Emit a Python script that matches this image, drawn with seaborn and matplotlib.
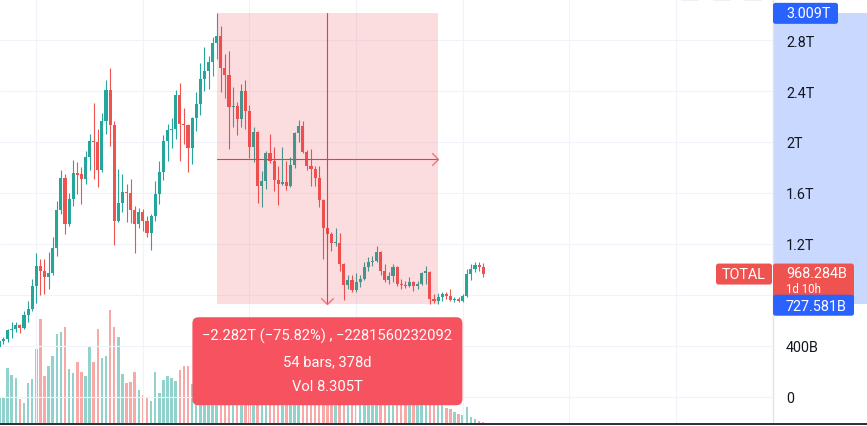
import numpy as np
import pandas as pd
import seaborn as sns
import matplotlib
matplotlib.use("Agg")
import matplotlib.pyplot as plt
from matplotlib.patches import Rectangle, FancyBboxPatch
from matplotlib.transforms import IdentityTransform
from matplotlib.path import Path
from matplotlib.lines import Line2D

# ---------------- data (weekly TOTAL crypto market cap, in trillions USD) ----------------
opens = [0.392, 0.439, 0.455, 0.525, 0.533, 0.565, 0.541, 0.643, 0.690, 0.871,
         1.024, 0.992, 0.945, 0.973, 1.165, 1.467, 1.718, 1.357, 1.553, 1.753,
         1.749, 1.706, 1.882, 2.008, 2.000, 1.784, 2.167, 2.408, 2.133, 1.383,
         1.522, 1.605, 1.600, 1.469, 1.359, 1.449, 1.383, 1.284, 1.417, 1.592,
         1.767, 2.008, 2.096, 2.102, 2.369, 2.141, 2.133, 1.955, 2.186, 2.298,
         2.494, 2.559, 2.625, 2.774, 2.834, 2.584, 2.528, 2.271, 2.282, 2.180,
         2.398, 2.243, 1.963, 2.076, 1.655, 1.692, 1.914, 1.849, 1.702, 1.671,
         1.689, 1.657, 1.820, 2.071, 2.128, 1.918, 1.808, 1.788, 1.715, 1.549,
         1.329, 1.275, 1.204, 1.210, 1.047, 0.875, 0.918, 0.842, 0.900, 0.925,
         1.022, 1.061, 1.069, 1.140, 0.992, 0.914, 0.951, 1.020, 0.886, 0.878,
         0.868, 0.904, 0.868, 0.886, 0.976, 0.984, 0.769, 0.755, 0.782, 0.808,
         0.790, 0.761, 0.771, 0.753, 0.795, 0.965, 1.004, 1.035, 1.017]
highs = [0.455, 0.471, 0.533, 0.586, 0.586, 0.573, 0.677, 0.755, 0.925, 1.129,
         1.082, 1.082, 1.135, 1.253, 1.537, 1.780, 1.749, 1.600, 1.859, 1.841,
         1.802, 1.932, 2.063, 2.306, 2.102, 2.227, 2.486, 2.580, 2.167, 1.788,
         1.749, 1.671, 1.710, 1.496, 1.480, 1.475, 1.422, 1.435, 1.696, 1.853,
         2.055, 2.141, 2.186, 2.408, 2.463, 2.264, 2.141, 2.194, 2.390, 2.617,
         2.743, 2.677, 2.826, 3.009, 2.912, 2.694, 2.716, 2.429, 2.311, 2.455,
         2.486, 2.293, 2.120, 2.085, 1.775, 1.932, 2.063, 1.958, 1.814, 1.963,
         1.851, 1.880, 2.081, 2.173, 2.165, 1.940, 1.945, 1.814, 1.809, 1.555,
         1.333, 1.296, 1.325, 1.286, 1.050, 0.959, 0.959, 0.970, 0.959, 1.056,
         1.100, 1.108, 1.182, 1.145, 1.043, 0.978, 1.043, 1.025, 0.925, 0.912,
         0.939, 0.912, 0.912, 0.980, 1.025, 0.988, 0.808, 0.813, 0.826, 0.826,
         0.847, 0.782, 0.782, 0.808, 1.004, 1.043, 1.059, 1.061, 1.051]
lows = [0.376, 0.416, 0.434, 0.463, 0.510, 0.502, 0.533, 0.591, 0.677, 0.735,
        0.802, 0.808, 0.847, 0.957, 1.108, 1.435, 1.278, 1.341, 1.500, 1.592,
        1.514, 1.671, 1.783, 1.710, 1.645, 1.767, 2.063, 1.971, 1.195, 1.370,
        1.453, 1.375, 1.365, 1.127, 1.323, 1.304, 1.253, 1.155, 1.383, 1.514,
        1.704, 1.853, 1.951, 2.024, 1.853, 1.984, 1.762, 1.827, 2.089, 2.214,
        2.398, 2.416, 2.520, 2.651, 2.396, 2.345, 1.945, 2.120, 2.057, 2.115,
        2.102, 1.875, 1.841, 1.522, 1.493, 1.631, 1.833, 1.618, 1.508, 1.659,
        1.626, 1.649, 1.798, 1.998, 1.911, 1.783, 1.655, 1.653, 1.488, 1.082,
        1.161, 1.147, 1.187, 0.991, 0.763, 0.847, 0.821, 0.821, 0.863, 0.920,
        0.991, 1.025, 1.056, 0.957, 0.904, 0.886, 0.900, 0.873, 0.847, 0.853,
        0.860, 0.834, 0.847, 0.880, 0.886, 0.729, 0.735, 0.7276, 0.755, 0.769,
        0.755, 0.743, 0.743, 0.743, 0.782, 0.918, 0.980, 0.988, 0.944]
closes = [0.439, 0.455, 0.525, 0.533, 0.565, 0.541, 0.643, 0.690, 0.871, 1.024,
          0.992, 0.945, 0.973, 1.165, 1.467, 1.718, 1.357, 1.553, 1.757, 1.741,
          1.706, 1.882, 2.008, 2.000, 1.784, 2.167, 2.408, 2.133, 1.383, 1.522,
          1.605, 1.600, 1.469, 1.359, 1.449, 1.383, 1.284, 1.417, 1.592, 1.767,
          2.008, 2.096, 2.102, 2.369, 2.141, 2.133, 1.955, 2.186, 2.298, 2.494,
          2.559, 2.625, 2.774, 2.834, 2.584, 2.528, 2.271, 2.282, 2.180, 2.398,
          2.243, 1.963, 2.076, 1.655, 1.692, 1.914, 1.849, 1.702, 1.671, 1.689,
          1.657, 1.820, 2.071, 2.128, 1.918, 1.808, 1.788, 1.715, 1.549, 1.329,
          1.275, 1.204, 1.210, 1.047, 0.875, 0.918, 0.842, 0.900, 0.925, 1.022,
          1.061, 1.069, 1.140, 0.992, 0.914, 0.951, 1.020, 0.886, 0.878, 0.868,
          0.904, 0.868, 0.886, 0.976, 0.984, 0.769, 0.755, 0.782, 0.808, 0.790,
          0.761, 0.771, 0.753, 0.795, 0.965, 1.004, 1.035, 1.017, 0.968284]
# volume in billions
volumes = [119, 119, 246, 216, 202, 110, 92, 180, 198, 330,
           462, 211, 255, 299, 396, 405, 427, 242, 224, 273,
           229, 211, 343, 273, 418, 290, 299, 502, 427, 383,
           220, 180, 185, 229, 150, 128, 114, 101, 229, 136,
           194, 211, 202, 189, 238, 255, 255, 176, 198, 229,
           211, 176, 194, 220, 242, 185, 255, 176, 158, 185,
           167, 220, 176, 246, 185, 194, 158, 176, 167, 150,
           141, 158, 176, 150, 158, 141, 150, 132, 158, 229,
           176, 150, 132, 176, 220, 141, 132, 123, 114, 123,
           114, 106, 123, 132, 114, 106, 114, 123, 106, 97,
           97, 101, 97, 114, 106, 158, 123, 114, 97, 70,
           66, 53, 44, 40, 75, 31, 22, 15, 10]

# the 800B level is hidden behind the price labels in the reference
price_ticks = [0, 0.4, 0.8, 1.2, 1.6, 2.0, 2.4, 2.8]
price_tick_labels = ["0", "400B", "", "1.2T", "1.6T", "2T", "2.4T", "2.8T"]
symbol = "TOTAL"
last_price_label = "968.284B"
countdown_label = "1d 10h"
measure_high_label = "3.009T"
measure_low_label = "727.581B"
measure_bars = 54
tooltip_lines = ["\u22122.282T (\u221275.82%) , \u22122281560232092",
                 "54 bars, 378d",
                 "Vol 8.305T"]

# ---------------- style ----------------
sns.set_style("white")
plt.rcParams['font.family'] = ['Roboto', 'DejaVu Sans']

GREEN = "#26a69a"
RED = "#ef5350"
VOL_G = "#92d2cc"
VOL_R = "#f7a9a7"
GRID = "#f0f3fa"
TXT = "#131722"
BLUE = "#2962ff"
FS = 10.4

W, H = 867, 427
PLOT_R, PLOT_B = 773, 425
BAR_PX, X0_PX = 4.1, -0.6
PX_PER_T, ZERO_PX = 127.5, 398.0
VOL_PER_PX = 4.4

fig = plt.figure(figsize=(W / 100, H / 100), dpi=100)
fig.patch.set_facecolor("white")
rect = [0, (H - PLOT_B) / H, PLOT_R / W, PLOT_B / H]
vax = fig.add_axes(rect, zorder=0)
ax = fig.add_axes(rect, zorder=2)
ax.patch.set_visible(False)
pax = fig.add_axes([PLOT_R / W, (H - PLOT_B) / H, (W - PLOT_R) / W, PLOT_B / H], zorder=1)

xlim = ((0 - X0_PX) / BAR_PX, (PLOT_R - X0_PX) / BAR_PX)
ylim = ((ZERO_PX - PLOT_B) / PX_PER_T, ZERO_PX / PX_PER_T)

o = np.array(opens); h = np.array(highs); l = np.array(lows); c = np.array(closes)
n = len(o)
idx = np.arange(n)
up = c >= o

# ---------------- volume (seaborn) ----------------
vdf = pd.DataFrame({"i": idx, "vol": volumes, "dir": np.where(up, "up", "down")})
sns.barplot(data=vdf, x="i", y="vol", hue="dir", hue_order=["up", "down"],
            palette={"up": VOL_G, "down": VOL_R}, dodge=False, native_scale=True,
            width=0.6, saturation=1, errorbar=None, legend=False, linewidth=0, ax=vax)
vax.set_xlim(*xlim)
vax.set_ylim(0, PLOT_B * VOL_PER_PX)
vax.set_axis_off()

# ---------------- candles ----------------
col = np.where(up, GREEN, RED)
ax.vlines(idx, l, h, colors=col, linewidth=0.8, zorder=2)
body = np.maximum(np.abs(c - o), 1.2 / PX_PER_T)
ax.bar(idx, body, bottom=np.minimum(o, c), width=0.74, color=col, linewidth=0, zorder=3)

ax.set_xlim(*xlim)
ax.set_ylim(*ylim)
ax.set_xticks([9 + 26 * k for k in range(7)])
ax.set_yticks(price_ticks)
ax.set_yticklabels(price_tick_labels)
ax.grid(True, color=GRID, linewidth=0.8)
ax.set_axisbelow(True)
ax.tick_params(axis="x", length=0, labelbottom=False)
ax.yaxis.tick_right()
ax.tick_params(axis="y", length=0, pad=9.4, labelsize=FS, labelcolor=TXT)
for s in ax.spines.values():
    s.set_visible(False)

# ---------------- measure tool ----------------
m_start = int(np.argmax(h))
m_end = m_start + measure_bars
m_hi = h[m_start]
m_lo = l[m_end]
m_mid = (m_hi + m_lo) / 2
m_xmid = (m_start + m_end) / 2
ax.add_patch(Rectangle((m_start, m_lo), m_end - m_start, m_hi - m_lo,
                       facecolor="#f23645", alpha=0.17, linewidth=0, zorder=4))
ax.plot([m_start, m_end], [m_mid, m_mid], color="#f23645", lw=0.8, zorder=5)
ax.plot([m_xmid, m_xmid], [m_hi, m_lo], color="#f23645", lw=0.8, zorder=5)
chev_r = Path([(-1, 1), (0, 0), (-1, -1)], [Path.MOVETO, Path.LINETO, Path.LINETO])
chev_d = Path([(-1, 1), (0, 0), (1, 1)], [Path.MOVETO, Path.LINETO, Path.LINETO])
ax.plot([m_end], [m_mid], marker=chev_r, markersize=9, mfc="none", mec="#f5707c", mew=1.0, zorder=6)
ax.plot([m_xmid], [m_lo], marker=chev_d, markersize=9, mfc="none", mec="#f5707c", mew=1.0, zorder=6)

# ---------------- price scale panel ----------------
pax.set_ylim(*ylim)
pax.set_xlim(0, 1)
pax.axhspan(m_lo, m_hi, color="#c9d8ff", linewidth=0, zorder=1)
pax.set_xticks([]); pax.set_yticks([])
for k, s in pax.spines.items():
    s.set_visible(k == "left")
pax.spines["left"].set_color("#e0e3eb")
pax.spines["left"].set_linewidth(1.0)

fig.canvas.draw()


def py(price):
    return ax.transData.transform((0, price))[1]


def px(i):
    return ax.transData.transform((i, 0))[0]


def box(x0, y0, w, hgt, color, r=2.5, z=20):
    p = FancyBboxPatch((x0, y0), w, hgt, boxstyle=f"round,pad=0,rounding_size={r}",
                       transform=IdentityTransform(), facecolor=color, edgecolor="none", zorder=z)
    fig.add_artist(p)


def txt(x, y, s, color="white", ha="left", z=21, size=FS):
    return fig.text(x, y, s, transform=IdentityTransform(), color=color, ha=ha, va="center",
                    fontsize=size, zorder=z)


LX = PLOT_R + 13
# last price (red) label with countdown
yc = py(c[-1])
box(PLOT_R, yc - 27, 81, 37, RED, z=20)
txt(LX, yc + 0.5, last_price_label, z=21)
txt(LX, yc - 14.5, countdown_label, z=21, size=8.3)
box(716, yc - 11, 56, 21, RED, z=20)
txt(744, yc - 0.8, symbol, ha="center", z=21)
# measure high / low labels
yh = py(m_hi)
box(PLOT_R, yh - 10.5, 65, 21, BLUE, z=22)
txt(LX, yh, measure_high_label, z=23)
yl = py(m_lo)
box(PLOT_R, yl - 11.5, 81, 21, BLUE, z=22)
txt(LX, yl - 1.5, measure_low_label, z=23)

# tooltip
tx = px(m_xmid)
ttop = yl - 13
box(tx - 135, ttop - 88, 270, 88, "#f7525f", r=6, z=24)
for k, s in enumerate(tooltip_lines):
    txt(tx, ttop - [18.4, 44.4, 68.4][k], s, ha="center", z=25, size=10.6)

# bottom border and toolbar remnants
fig.add_artist(Line2D([0, W], [H - 425.2, H - 425.2], transform=IdentityTransform(),
                      color="#2a2e39", lw=1.4, zorder=30))
for x0 in (680, 712, 743):
    box(x0, H - 1.5, 20, 6, "#e0e3eb", r=2, z=30)

fig.savefig("out.png", dpi=100, facecolor="white")
